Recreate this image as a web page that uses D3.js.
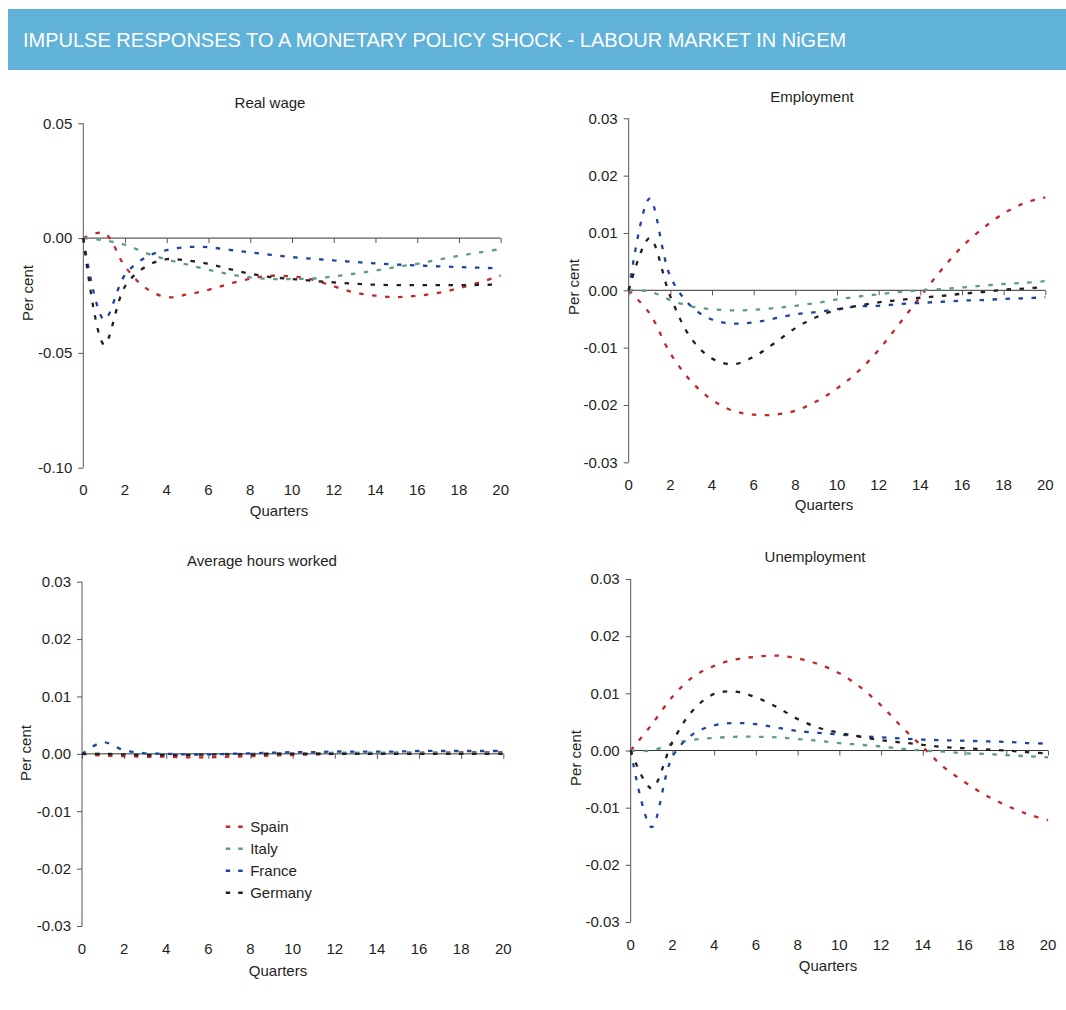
<!DOCTYPE html>
<html lang="en">
<head>
    <meta charset="UTF-8">
    <title>Impulse responses - labour market in NiGEM</title>
    <style>
        body {
            margin: 0;
            background: #fff;
            font-family: "Liberation Sans", Arial, sans-serif;
        }
        svg text {
            fill: #231f20;
        }
    </style>
</head>
<body>

<svg id="chart" width="1066" height="1010"></svg>

<script src="https://d3js.org/d3.v7.min.js"></script>
<script>
    // ---- data ----
    const quarters = [0, 1, 2, 3, 4, 5, 6, 7, 8, 9, 10, 11, 12, 13, 14, 15, 16, 17, 18, 19, 20];
    const xTicks = [0, 2, 4, 6, 8, 10, 12, 14, 16, 18, 20];
    const countries = ["Spain", "Italy", "France", "Germany"];
    const colours = ["#c1272d", "#5e9c86", "#1f44a0", "#231f20"];

    const realWageTicks = [-0.10, -0.05, 0.00, 0.05];
    const realWageSpain   = [0, 0.0022, -0.0124, -0.0218, -0.0257, -0.0245, -0.0225, -0.0199, -0.0177, -0.0164, -0.0167, -0.0181, -0.0210, -0.0237, -0.0251, -0.0257, -0.0251, -0.0239, -0.0218, -0.0193, -0.0163];
    const realWageItaly   = [0, -0.0010, -0.0029, -0.0065, -0.0093, -0.0116, -0.0138, -0.0157, -0.0171, -0.0178, -0.0178, -0.0176, -0.0167, -0.0155, -0.0141, -0.0126, -0.0112, -0.0094, -0.0077, -0.0062, -0.0048];
    const realWageFrance  = [0, -0.0355, -0.0160, -0.0083, -0.0052, -0.0039, -0.0040, -0.0051, -0.0062, -0.0073, -0.0083, -0.0090, -0.0097, -0.0104, -0.0110, -0.0115, -0.0119, -0.0123, -0.0126, -0.0129, -0.0132];
    const realWageGermany = [0, -0.0464, -0.0210, -0.0124, -0.0092, -0.0098, -0.0112, -0.0135, -0.0155, -0.0170, -0.0178, -0.0186, -0.0193, -0.0199, -0.0203, -0.0205, -0.0205, -0.0205, -0.0205, -0.0204, -0.0202];

    const smallTicks = [-0.03, -0.02, -0.01, 0.00, 0.01, 0.02, 0.03];

    const employmentSpain   = [0, -0.0040, -0.0110, -0.0159, -0.0191, -0.0210, -0.0217, -0.0217, -0.0210, -0.0194, -0.0171, -0.0142, -0.0104, -0.0058, -0.0011, 0.0035, 0.0076, 0.0108, 0.0134, 0.0152, 0.0162];
    const employmentItaly   = [0, -0.0002, -0.0017, -0.0028, -0.0033, -0.0035, -0.0034, -0.0031, -0.0027, -0.0022, -0.0016, -0.0011, -0.0007, -0.0003, 0.0000, 0.0002, 0.0005, 0.0008, 0.0011, 0.0013, 0.0016];
    const employmentFrance  = [0, 0.0160, 0.0024, -0.0028, -0.0051, -0.0058, -0.0056, -0.0049, -0.0042, -0.0038, -0.0033, -0.0028, -0.0027, -0.0024, -0.0022, -0.0020, -0.0018, -0.0017, -0.0015, -0.0014, -0.0012];
    const employmentGermany = [0, 0.0091, -0.0011, -0.0084, -0.0119, -0.0129, -0.0116, -0.0092, -0.0066, -0.0047, -0.0034, -0.0027, -0.0021, -0.0017, -0.0013, -0.0010, -0.0006, -0.0003, 0.0001, 0.0003, 0.0006];

    const hoursSpain   = [0, -0.0003, -0.0004, -0.0005, -0.0005, -0.0006, -0.0006, -0.0005, -0.0004, -0.0003, -0.0002, -0.0001, 0.0000, 0.0001, 0.0001, 0.0002, 0.0002, 0.0002, 0.0003, 0.0003, 0.0003];
    const hoursItaly   = [0, 0.0000, -0.0001, -0.0001, -0.0001, -0.0001, -0.0001, 0.0000, 0.0000, 0.0001, 0.0001, 0.0001, 0.0002, 0.0002, 0.0002, 0.0002, 0.0002, 0.0002, 0.0002, 0.0002, 0.0002];
    const hoursFrance  = [0, 0.0020, 0.0006, 0.0001, 0.0000, -0.0001, -0.0001, 0.0000, 0.0001, 0.0002, 0.0003, 0.0003, 0.0004, 0.0004, 0.0004, 0.0004, 0.0005, 0.0005, 0.0005, 0.0005, 0.0005];
    const hoursGermany = [0, 0.0000, -0.0001, -0.0002, -0.0002, -0.0002, -0.0001, -0.0001, -0.0001, 0.0000, 0.0000, 0.0000, 0.0000, 0.0000, 0.0000, 0.0000, 0.0000, 0.0000, 0.0000, 0.0000, 0.0000];

    const unemploymentSpain   = [0, 0.0045, 0.0094, 0.0129, 0.0148, 0.0159, 0.0164, 0.0166, 0.0161, 0.0151, 0.0135, 0.0111, 0.0079, 0.0041, 0.0006, -0.0029, -0.0055, -0.0078, -0.0096, -0.0111, -0.0122];
    const unemploymentItaly   = [0, 0.0000, 0.0012, 0.0019, 0.0022, 0.0024, 0.0024, 0.0023, 0.0020, 0.0017, 0.0013, 0.0010, 0.0007, 0.0003, 0.0000, -0.0002, -0.0005, -0.0006, -0.0008, -0.0010, -0.0012];
    const unemploymentFrance  = [0, -0.0134, -0.0011, 0.0029, 0.0044, 0.0048, 0.0046, 0.0040, 0.0034, 0.0031, 0.0028, 0.0025, 0.0023, 0.0021, 0.0019, 0.0018, 0.0017, 0.0016, 0.0015, 0.0013, 0.0012];
    const unemploymentGermany = [0, -0.0066, 0.0015, 0.0071, 0.0099, 0.0103, 0.0093, 0.0076, 0.0055, 0.0040, 0.0031, 0.0024, 0.0018, 0.0014, 0.0010, 0.0006, 0.0004, 0.0002, 0.0000, -0.0003, -0.0005];

    // ---- panel layout ----
    const panels = [
        { title: "Real wage", series: [realWageSpain, realWageItaly, realWageFrance, realWageGermany],
          ticks: realWageTicks, left: 83.3, right: 500.7, top: 123.3, bottom: 467.7,
          titleX: 270, titleY: 102, tickY: 489, labelX: 279, labelY: 510, perX: 27, perY: 293 },
        { title: "Employment", series: [employmentSpain, employmentItaly, employmentFrance, employmentGermany],
          ticks: smallTicks, left: 628.7, right: 1045.3, top: 118.3, bottom: 462.3,
          titleX: 812, titleY: 96, tickY: 484, labelX: 824, labelY: 504, perX: 573, perY: 287 },
        { title: "Average hours worked", series: [hoursSpain, hoursItaly, hoursFrance, hoursGermany],
          ticks: smallTicks, left: 82, right: 503.3, top: 581.7, bottom: 926,
          titleX: 262, titleY: 560, tickY: 948, labelX: 278, labelY: 970, perX: 25, perY: 753,
          legend: true },
        { title: "Unemployment", series: [unemploymentSpain, unemploymentItaly, unemploymentFrance, unemploymentGermany],
          ticks: smallTicks, left: 630.7, right: 1048, top: 579, bottom: 922,
          titleX: 815, titleY: 556, tickY: 944, labelX: 828, labelY: 965, perX: 575, perY: 758 }
    ];

    const svg = d3.select("#chart");
    const fontSize = "15px";

    // header bar
    svg.append("rect")
        .attr("x", 8).attr("y", 9)
        .attr("width", 1058).attr("height", 61)
        .attr("fill", "#60b2d8");
    svg.append("text")
        .attr("x", 23).attr("y", 47)
        .style("fill", "#fff")
        .style("font-size", "20px")
        .text("IMPULSE RESPONSES TO A MONETARY POLICY SHOCK - LABOUR MARKET IN NiGEM");

    const dash = "4.5,8.5";

    panels.forEach(p => {
        const x = d3.scaleLinear().domain([0, 20]).range([p.left, p.right]);
        const y = d3.scaleLinear().domain(d3.extent(p.ticks)).range([p.bottom, p.top]);
        const g = svg.append("g");

        // y axis
        const yAxis = g.append("g")
            .attr("transform", `translate(${p.left},0)`)
            .call(d3.axisLeft(y).tickValues(p.ticks).tickSize(5).tickPadding(6));
        yAxis.select(".domain").attr("stroke", "#555").attr("d", `M0,${p.top}V${p.bottom}`);
        yAxis.selectAll(".tick line").attr("stroke", "#555");
        yAxis.selectAll(".tick text")
            .text(d => d3.format(".2f")(d).replace("−", "-"))
            .style("font-size", fontSize)
            .style("font-family", "Liberation Sans, Arial, sans-serif");

        // x axis along zero line, ticks pointing down
        const xAxis = g.append("g")
            .attr("transform", `translate(0,${y(0)})`)
            .call(d3.axisBottom(x).tickValues(xTicks).tickSize(5).tickFormat(""));
        xAxis.select(".domain").attr("stroke", "#333").attr("d", `M${p.left},0H${p.right}`);
        xAxis.selectAll(".tick line").attr("stroke", "#555");

        // x tick labels at bottom
        g.selectAll(".xlab")
            .data(xTicks)
            .join("text")
            .attr("x", d => x(d))
            .attr("y", p.tickY)
            .attr("text-anchor", "middle")
            .attr("dominant-baseline", "central")
            .style("font-size", fontSize)
            .text(d => d);

        g.append("text")
            .attr("x", p.labelX).attr("y", p.labelY)
            .attr("text-anchor", "middle")
            .attr("dominant-baseline", "central")
            .style("font-size", fontSize)
            .text("Quarters");

        g.append("text")
            .attr("transform", `translate(${p.perX},${p.perY}) rotate(-90)`)
            .attr("text-anchor", "middle")
            .attr("dominant-baseline", "central")
            .style("font-size", fontSize)
            .text("Per cent");

        g.append("text")
            .attr("x", p.titleX).attr("y", p.titleY)
            .attr("text-anchor", "middle")
            .attr("dominant-baseline", "central")
            .style("font-size", fontSize)
            .text(p.title);

        const line = d3.line()
            .x((d, i) => x(quarters[i]))
            .y(d => y(d))
            .curve(d3.curveCatmullRom.alpha(0.5));

        p.series.forEach((s, i) => {
            g.append("path")
                .attr("d", line(s))
                .attr("fill", "none")
                .attr("stroke", colours[i])
                .attr("stroke-width", 2.3)
                .attr("stroke-dasharray", dash);
        });

        if (p.legend) {
            const lg = g.append("g").attr("transform", "translate(225.7,826.7)");
            countries.forEach((c, i) => {
                const row = lg.append("g").attr("transform", `translate(0,${i * 22})`);
                row.append("line")
                    .attr("x1", 0).attr("x2", 17)
                    .attr("y1", 0).attr("y2", 0)
                    .attr("stroke", colours[i])
                    .attr("stroke-width", 2.5)
                    .attr("stroke-dasharray", "4.5,8");
                row.append("text")
                    .attr("x", 24.5).attr("y", 0)
                    .attr("dominant-baseline", "central")
                    .style("font-size", fontSize)
                    .text(c);
            });
        }
    });
</script>
</body>
</html>
